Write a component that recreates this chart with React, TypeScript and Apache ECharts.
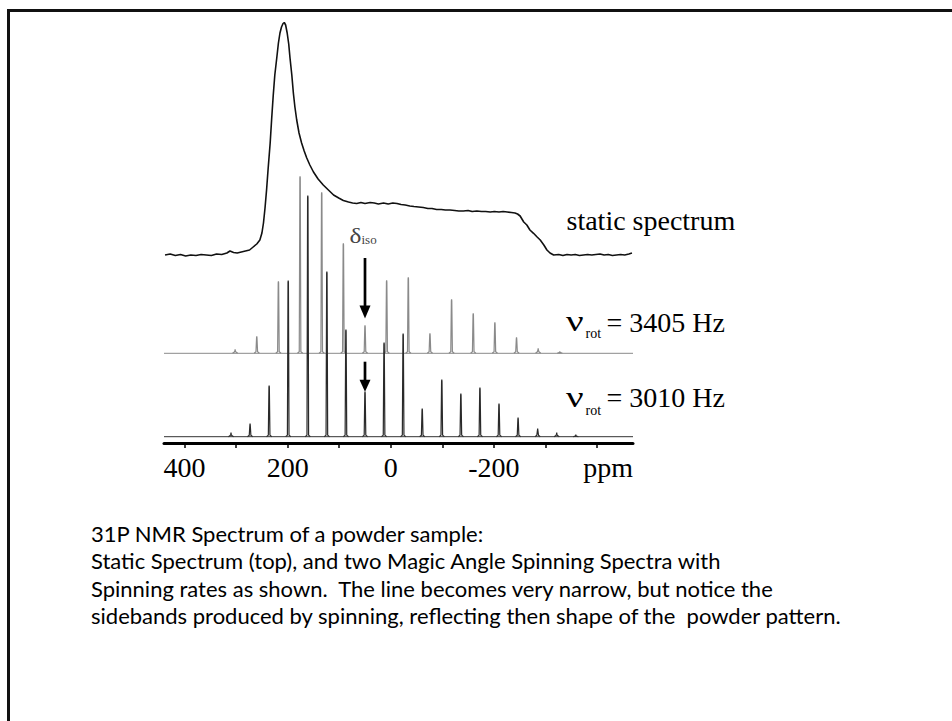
import React, { useEffect, useRef } from "react";
import * as echarts from "echarts";

// ---------- data ----------
// static spectrum: chemical shift (ppm) and intensity above its own baseline
const STATIC_PPM = [
  438, 428, 418, 408, 398, 388, 378, 368, 358, 348, 338, 328, 318, 312, 305, 298, 290, 282, 274, 267,
  260, 254, 250, 247, 244, 241, 238, 234, 231, 228, 225, 221, 218, 215, 212, 209, 206.6, 204, 201, 198,
  195.5, 192, 189, 186, 182.5, 178, 173, 168, 163, 157, 150, 141, 131, 121, 111, 101, 92, 82, 74, 66,
  58, 50, 40, 32, 24, 14, 5, -4, -12, -20, -28, -37, -45, -54, -63, -72, -80, -89, -98, -106,
  -115, -124, -132, -141, -150, -158, -167, -176, -184, -193, -201, -210, -218, -226, -234, -241, -246, -251, -258, -264,
  -270, -277, -284, -290, -297, -303, -309, -316, -326, -334, -342, -350, -358, -366, -374, -382, -390, -398, -406, -414,
  -422, -430, -438, -446, -454, -462, -468,
];
const STATIC_INTENSITY = [
  0, 1, -0.5, 0.5, -1, 0, -0.5, 0.5, 0, -0.5, 1, 0.5, 2, 4, 2.5, 2, 3, 4, 5, 8,
  11, 15, 22, 32, 47, 65, 86, 112, 137, 160, 180, 198, 212, 222, 228, 231.5, 232.5, 230, 222, 211,
  197, 180, 162, 148, 135, 122, 112, 104, 97, 90, 83, 76, 70, 65, 60, 57, 54.5, 53, 52, 51.5,
  52.5, 51.5, 52.5, 52, 51, 52, 51, 52, 51.5, 50.5, 50, 49, 48.5, 48, 47.5, 46.5, 46.5, 45.5, 45.5, 45,
  45, 44.5, 44, 44, 44.5, 43.5, 44, 43.5, 43.5, 43, 43.5, 43, 43.5, 43, 42.5, 42, 41, 39, 33, 30,
  25, 21.7, 18, 15, 10, 5, 2, 0, 0.5, -0.5, 0.5, 0, 0.5, -0.5, 0, 0.5, 0, 0.5, 1, 0,
  0.5, -0.5, 0, 0.5, 0, 1, 2,
];

// MAS spectrum, rotation 3405 Hz: sideband positions (ppm) and heights
const MAS3405_PPM = [302, 260, 218, 176, 134, 92, 50, 8, -34, -76, -118, -160, -202, -244, -286, -328];
const MAS3405_HEIGHT = [4, 17, 72, 177, 161, 110, 28, 73, 76, 20, 54, 40, 31, 16, 5, 2];

// MAS spectrum, rotation 3010 Hz
const MAS3010_PPM = [310, 273, 236, 199, 161, 124, 87, 50, 13, -24, -61, -99, -136, -173, -210, -247, -285, -322, -359];
const MAS3010_HEIGHT = [4, 13, 51, 156, 241, 165, 107, 45, 94, 103, 28, 57, 43, 49, 33, 19, 8, 4, 2];

const ISO_PPM = 50;
const X_TICKS = [400, 300, 200, 100, 0, -100, -200, -300, -400];
const X_LABELS = [400, 200, 0, -200];

const CAPTION = [
  "31P NMR Spectrum of a powder sample:",
  "Static Spectrum (top), and two Magic Angle Spinning Spectra with",
  "Spinning rates as shown.  The line becomes very narrow, but notice the",
  "sidebands produced by spinning, reflecting then shape of the  powder pattern.",
];

// ---------- layout ----------
const X_MIN = -470;
const X_MAX = 440;
const Y_MAX = 423;
const OFFSET_STATIC = 188;
const OFFSET_3405 = 89.7;
const OFFSET_3010 = 6.3;
const SERIF = "'Liberation Serif', 'Times New Roman', serif";
const SANS = "Lato, 'Open Sans', sans-serif";

function txt(
  x: number,
  y: number,
  text: string,
  fontSize: number,
  family: string,
  fill = "#000",
  align = "left",
  scaleX = 1
) {
  return {
    type: "text",
    x,
    y,
    scaleX,
    silent: true,
    style: {
      text,
      fontSize,
      fontFamily: family,
      fill,
      align,
      verticalAlign: "middle",
      textAlign: align,
      textVerticalAlign: "middle",
    },
  };
}

function peakSeries(name: string, ppm: number[], heights: number[], offset: number, color: string, z: number) {
  return {
    type: "custom",
    name,
    coordinateSystem: "cartesian2d",
    clip: false,
    z,
    silent: true,
    data: ppm.map((p, i) => [p, heights[i]]),
    renderItem: (_params: any, api: any) => {
      const p = api.value(0);
      const h = api.value(1);
      const base = api.coord([p, offset]);
      const top = api.coord([p, offset + h]);
      const x = base[0];
      const yb = base[1];
      const yt = top[1];
      const foot = Math.min(1.6, (yb - yt) * 0.3);
      return {
        type: "polyline",
        shape: {
          points: [
            [x - 2.6, yb],
            [x - 0.8, yb - foot],
            [x - 0.2, yt + 1.5],
            [x, yt],
            [x + 0.2, yt + 1.5],
            [x + 0.8, yb - foot],
            [x + 2.6, yb],
          ],
        },
        style: { stroke: color, fill: "none", lineWidth: 1.2 },
      };
    },
  };
}

function baseline(offset: number, color: string, z: number) {
  return {
    type: "line",
    data: [
      [X_MAX, offset],
      [X_MIN, offset],
    ],
    symbol: "none",
    silent: true,
    z,
    lineStyle: { color, width: 1 },
  };
}

export default function App() {
  const ref = useRef<HTMLDivElement>(null);

  useEffect(() => {
    if (!ref.current) return;
    const chart = echarts.init(ref.current, undefined, { renderer: "svg" });

    const option: any = {
      animation: false,
      backgroundColor: "#fff",
      grid: { left: 164, right: 319, top: 20, bottom: 278 },
      xAxis: {
        type: "value",
        inverse: true,
        min: X_MIN,
        max: X_MAX,
        axisLine: { show: true, onZero: false, lineStyle: { color: "#000", width: 3 } },
        axisTick: { show: true, length: 5, customValues: X_TICKS, lineStyle: { color: "#000", width: 1.5 } },
        axisLabel: {
          show: true,
          customValues: X_LABELS,
          margin: 10,
          fontSize: 28,
          fontFamily: SERIF,
          color: "#000",
          formatter: (v: number) => String(v),
        },
        splitLine: { show: false },
      },
      yAxis: { type: "value", min: 0, max: Y_MAX, show: false, splitLine: { show: false } },
      series: [
        {
          type: "line",
          name: "static spectrum",
          data: STATIC_PPM.map((p, i) => [p, OFFSET_STATIC + STATIC_INTENSITY[i]]),
          symbol: "none",
          silent: true,
          z: 5,
          lineStyle: { color: "#111", width: 1.6 },
        },
        baseline(OFFSET_3405, "#8a8a8a", 2),
        peakSeries("3405 Hz", MAS3405_PPM, MAS3405_HEIGHT, OFFSET_3405, "#8a8a8a", 2),
        baseline(OFFSET_3010, "#333", 3),
        peakSeries("3010 Hz", MAS3010_PPM, MAS3010_HEIGHT, OFFSET_3010, "#2a2a2a", 3),
      ],
    };
    chart.setOption(option);

    const ax = chart.convertToPixel({ gridIndex: 0 }, [ISO_PPM, 0])[0];
    const arrow = (x: number, y0: number, y1: number, headH: number) => ({
      type: "group",
      silent: true,
      children: [
        { type: "line", shape: { x1: x, y1: y0, x2: x, y2: y1 - headH + 1 }, style: { stroke: "#000", lineWidth: 2.7 } },
        {
          type: "polygon",
          shape: { points: [[x - 5.5, y1 - headH], [x + 5.5, y1 - headH], [x, y1]] },
          style: { fill: "#000" },
        },
      ],
    });

    chart.setOption({
      graphic: [
        {
          type: "rect",
          silent: true,
          shape: { x: 8.5, y: 10.5, width: 2000, height: 2000 },
          style: { fill: "none", stroke: "#111", lineWidth: 3 },
        },
        txt(566.5, 220.5, "static spectrum", 28, SERIF),
        txt(566, 321.5, "ν", 30, SERIF, "#000", "left", 1.3),
        txt(585.5, 333.5, "rot", 14, SERIF),
        txt(606.5, 322.2, "= 3405 Hz", 28, SERIF),
        txt(566, 397.2, "ν", 30, SERIF, "#000", "left", 1.3),
        txt(585.5, 410.3, "rot", 14, SERIF),
        txt(606.5, 397.8, "= 3010 Hz", 28, SERIF),
        txt(349.5, 235.6, "δ", 22, SERIF, "#444", "left", 1.15),
        txt(361.5, 239.6, "iso", 13, SERIF, "#444"),
        txt(633, 467.5, "ppm", 28, SERIF, "#000", "right"),
        arrow(ax, 258, 318.5, 13),
        arrow(ax, 361.7, 391.7, 12),
        ...CAPTION.map((line, i) => txt(91, 533.2 + i * 27.5, line, 22, SANS)),
      ],
    });

    return () => chart.dispose();
  }, []);

  return (
    <div
      ref={ref}
      style={{ position: "fixed", left: 0, top: 0, width: 952, height: 721, background: "#fff" }}
    />
  );
}
